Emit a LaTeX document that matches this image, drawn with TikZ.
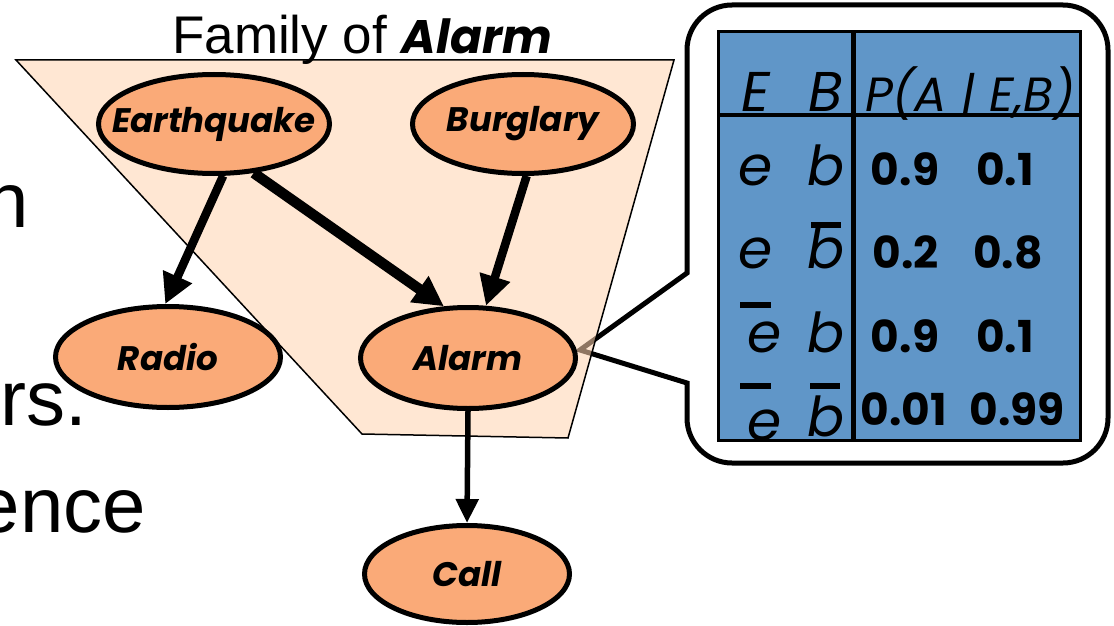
\documentclass[tikz,border=0pt]{standalone}
\usepackage{fontspec}
\setmainfont{Liberation Sans}
\newfontfamily\comicf{Poppins}
\usetikzlibrary{shapes.geometric,arrows.meta}

\definecolor{salmon}{RGB}{250,170,120}
\definecolor{peach}{RGB}{255,212,176}
\definecolor{tblue}{RGB}{96,150,200}

\tikzset{
  bn/.style={ellipse, draw=black, line width=5pt, fill=salmon, inner sep=0pt,
    font=\comicf\bfseries\itshape\fontsize{34}{34}\selectfont},
  arr/.style={draw=black, -{Triangle[length=30pt,width=30pt]}},
  arrsmall/.style={draw=black, -{Triangle[length=24pt,width=22pt]}},
  hd/.style={anchor=base, inner sep=0pt, font=\comicf\itshape\fontsize{48}{48}\selectfont},
  hdbig/.style={anchor=base, inner sep=0pt, font=\comicf\itshape\fontsize{56}{56}\selectfont},
  lt/.style={anchor=base, inner sep=0pt, font=\comicf\itshape\fontsize{55}{55}\selectfont},
  num/.style={anchor=base, inner sep=0pt, font=\comicf\bfseries\fontsize{44}{44}\selectfont},
  bigtxt/.style={anchor=base east, inner sep=0pt, font=\fontsize{78}{78}\selectfont},
  barline/.style={line width=6pt},
  callout/.style={draw=black, line width=5pt, fill=white, line join=miter},
}

\begin{document}
\begin{tikzpicture}[x=1pt,y=-1pt]
\useasboundingbox (0,0) rectangle (1114,626);
\clip (0,0) rectangle (1114,626);

% left text fragments
\node[bigtxt] (t1) at (29,227) {n};
\node[bigtxt] (t2) at (87,425) {rs.};
\node[bigtxt] (t3) at (146,532) {ence};

% callout
\path[callout] (580,350) -- (687,383) -- (687,418)
  .. controls (687,442.8) and (707.2,463) .. (732,463) -- (1063,463)
  .. controls (1087.8,463) and (1108,442.8) .. (1108,418) -- (1108,50)
  .. controls (1108,25.2) and (1087.8,5) .. (1063,5) -- (732,5)
  .. controls (707.2,5) and (687,25.2) .. (687,50) -- (687,273) -- cycle;

% table
\fill[tblue] (718,32) rectangle (1080,440);
\draw[line width=5pt] (853,32) -- (853,440);
\draw[line width=4pt] (718,115) -- (1080,115);
\begin{scope}
\clip (718,32) rectangle (1080,440);
\node[hdbig] (hE) at (756,111) {E};
\node[hdbig] (hB) at (826,111) {B};
\node[hd] (hP) at (970,111) {P(A | E,B)};
\node[lt] (e1) at (756,185) {e};
\node[lt] (b1) at (826,185) {b};
\node[num] (p11) at (905,185) {0.9};
\node[num] (p12) at (1005,185) {0.1};
\node[lt] (e2) at (756,268) {e};
\node[lt] (b2) at (826,268) {b};
\node[num] (p21) at (906,268) {0.2};
\node[num] (p22) at (1008,268) {0.8};
\node[lt] (e3) at (765,352) {e};
\node[lt] (b3) at (826,352) {b};
\node[num] (p31) at (905,352) {0.9};
\node[num] (p32) at (1005,352) {0.1};
\node[lt] (e4) at (765,440) {e};
\node[lt] (b4) at (826,436) {b};
\node[num] (p41) at (904,425) {0.01};
\node[num] (p42) at (1017,425) {0.99};
\end{scope}
\draw[barline] (811,225) -- (841,225);
\draw[barline] (740,305) -- (771,305);
\draw[barline] (740,386) -- (771,386);
\draw[barline] (810,386) -- (840,386);
\draw[line width=3pt] (718,32) rectangle (1080,440);

% family trapezoid
\path[draw=black, line width=1.5pt, fill=peach, fill opacity=0.56]
  (16,60) -- (674,60) -- (568,438) -- (362,434) -- cycle;
\node[anchor=base west, inner sep=0pt, font=\fontsize{53}{53}\selectfont] (fam) at (172,54)
  {Family of {\comicf\bfseries\itshape\fontsize{47}{47}\selectfont Alarm}};

% nodes
\node[bn, minimum width=231pt, minimum height=99pt] (eq) at (214,124) {\makebox[0pt]{Earthquake}};
\node[bn, minimum width=221pt, minimum height=99pt] (bu) at (523,124) {\makebox[0pt]{Burglary}};
\node[bn, minimum width=225pt, minimum height=101pt] (radio) at (168,357) {\makebox[0pt]{Radio}};
\node[bn, minimum width=215pt, minimum height=101pt] (alarm) at (468,358) {\makebox[0pt]{Alarm}};
\node[bn, minimum width=205pt, minimum height=97pt] (call) at (467,574) {\makebox[0pt]{Call}};

% edges
\draw[arr, line width=8.5pt] (eq.-80.5) -- (radio.93);
\draw[arr, line width=10.5pt] (eq.-51) -- (alarm.115);
\draw[arr, line width=8.5pt] (bu.-86) -- (alarm.71.6);
\draw[arrsmall, line width=5.5pt] (alarm.south) -- (call.north);
\end{tikzpicture}
\end{document}
